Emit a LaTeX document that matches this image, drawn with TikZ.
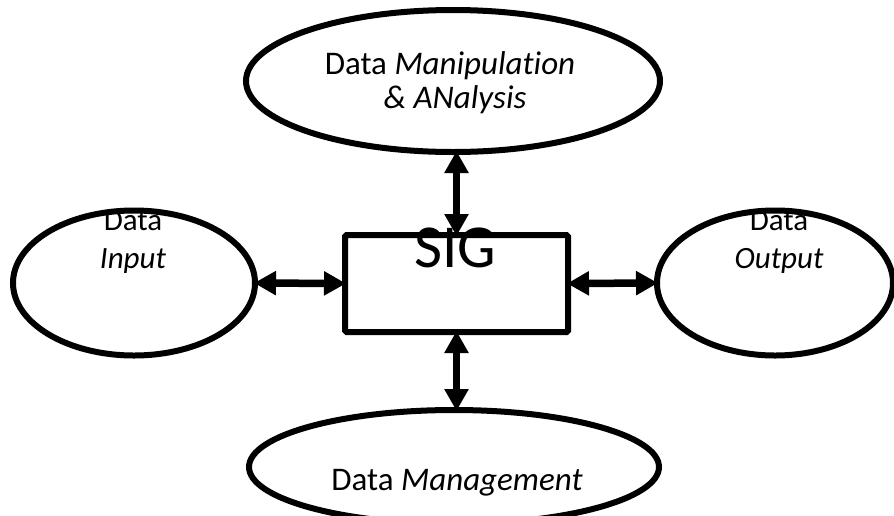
\documentclass[tikz,border=0pt]{standalone}
\usepackage{fontspec}
\setmainfont[Ligatures=NoCommon]{Carlito}
\usetikzlibrary{shapes.geometric,arrows.meta}
\tikzset{
  bubble/.style={draw=black, line width=6pt, ellipse, inner sep=0pt, outer sep=0pt, fill=none},
  sigbox/.style={draw=black, line width=6pt, rounded corners=1.5pt, inner sep=0pt, outer sep=0pt, minimum width=223pt, minimum height=97pt},
  link/.style={line width=7.5pt, {Triangle[width=23pt,length=22pt]}-{Triangle[width=23pt,length=22pt]}, shorten <=-1pt, shorten >=-1pt},
  lbl/.style={anchor=base, inner sep=0pt, outer sep=0pt},
  big/.style={font=\fontsize{33}{36}\selectfont},
  mid/.style={font=\fontsize{31}{34}\selectfont},
  huge/.style={font=\fontsize{61}{64}\selectfont}
}
\begin{document}
\begin{tikzpicture}[x=1pt,y=-1pt]
\useasboundingbox (0,0) rectangle (894,515);
% texts
\node[lbl,big] (t1) at (450,74) {Data \textit{Manipulation}};
\node[lbl,big] (t2) at (455,108) {\textit{\& ANalysis}};
\node[lbl,mid] (l1) at (133,230) {Data};
\node[lbl,mid] (l2) at (133,268) {\textit{Input}};
\node[lbl,mid] (r1) at (779,230) {Data};
\node[lbl,mid] (r2) at (779,268) {\textit{Output}};
\node[lbl,big] (b1) at (457,490) {Data \textit{Management}};
% shapes
\node[bubble, minimum width=414pt, minimum height=142pt] (top) at (453,81) {};
\node[bubble, minimum width=242pt, minimum height=145pt] (in) at (134,283) {};
\node[bubble, minimum width=236pt, minimum height=145pt] (out) at (775,283) {};
\node[bubble, minimum width=410pt, minimum height=114pt] (man) at (454,467) {};
\node[sigbox] (sig) at (456.5,283.5) {};
\node[lbl,huge] (sigt) at (455,267) {SIG};
% connectors
\draw[link] (in.east) -- (sig.west);
\draw[link] (sig.east) -- (out.west);
\draw[link] (sig.north |- top.south) -- (sig.north);
\draw[link] (sig.south) -- (sig.south |- man.north);
\end{tikzpicture}
\end{document}
